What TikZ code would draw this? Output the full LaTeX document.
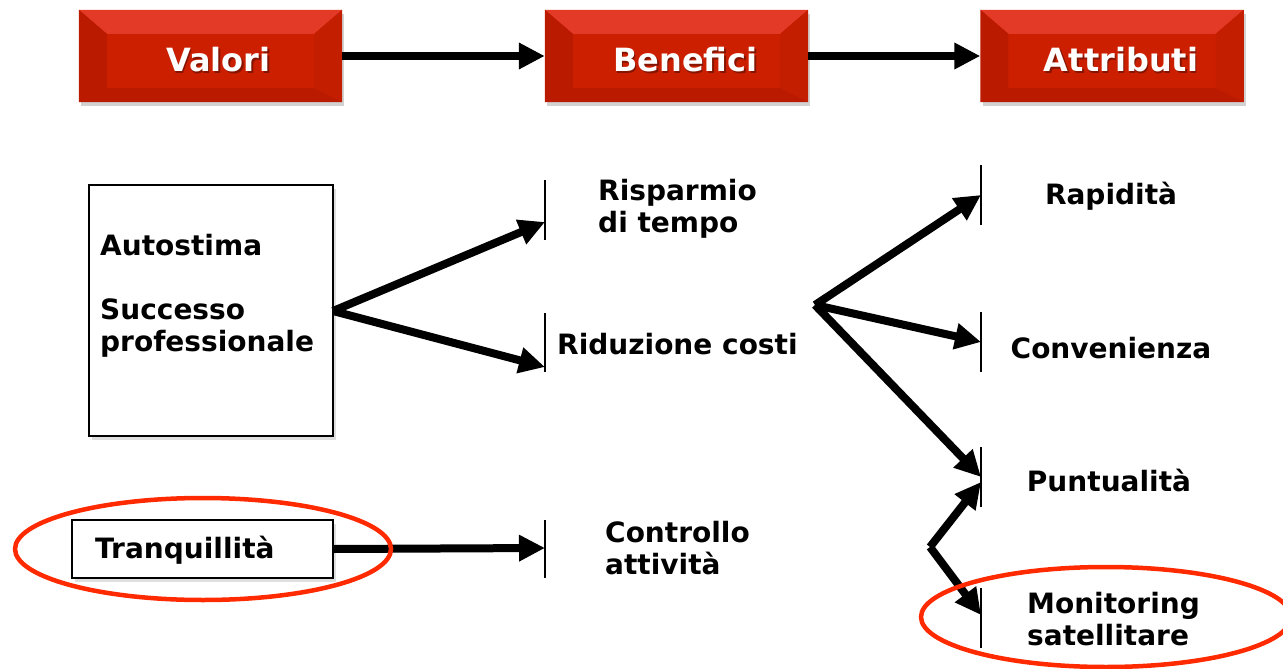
\documentclass[tikz,border=0pt]{standalone}
\usepackage{fontspec}
\setmainfont{DejaVu Sans}
\usetikzlibrary{arrows.meta,shadows}
\definecolor{hred}{HTML}{CC1F00}
\definecolor{hlight}{HTML}{E23A26}
\definecolor{hdark}{HTML}{BA1A00}
\definecolor{ovred}{HTML}{FF2A00}
\tikzset{
  hdr/.style={minimum width=263pt, minimum height=92pt, inner sep=0pt, fill=hred,
    drop shadow={opacity=0.35, shadow xshift=2pt, shadow yshift=-4pt}},
  hdrtxt/.style={text=white, font=\fontsize{32}{38}\selectfont\bfseries},
  lbl/.style={font=\fontsize{28}{32}\selectfont\bfseries, align=left, inner sep=0pt},
  valbox/.style={draw=black, line width=1.2pt, fill=white, inner sep=0pt,
    drop shadow={opacity=0.25, shadow xshift=3pt, shadow yshift=-4pt}},
  conn/.style={line width=8pt, -{Triangle[length=26pt,width=25pt]}},
  bar/.style={line width=1.5pt},
  oval/.style={draw=ovred, line width=4.5pt}
}
\newcommand{\bevel}[1]{%
  \fill[hlight] (#1.north west) -- (#1.north east) -- ([xshift=-28pt,yshift=-24pt]#1.north east) -- ([xshift=28pt,yshift=-24pt]#1.north west) -- cycle;
  \fill[hdark] (#1.north west) -- ([xshift=28pt,yshift=-24pt]#1.north west) -- ([xshift=28pt,yshift=14pt]#1.south west) -- (#1.south west) -- cycle;
  \fill[hred!96!black] (#1.north east) -- ([xshift=-28pt,yshift=-24pt]#1.north east) -- ([xshift=-28pt,yshift=14pt]#1.south east) -- (#1.south east) -- cycle;
  \fill[hdark] (#1.south west) -- ([xshift=28pt,yshift=14pt]#1.south west) -- ([xshift=-28pt,yshift=14pt]#1.south east) -- (#1.south east) -- cycle;
}
\begin{document}
\begin{tikzpicture}[x=1pt,y=-1pt]
\useasboundingbox (0,0) rectangle (1283,669);
\fill[white] (0,0) rectangle (1283,669);
% header boxes
\node[hdr] (valori) at (210.5,56) {};
\node[hdr] (benefici) at (676.5,56) {};
\node[hdr] (attributi) at (1112,56) {};
\bevel{valori}
\bevel{benefici}
\bevel{attributi}
\foreach \n/\t/\dx in {valori/Valori/8, benefici/Benefici/9, attributi/Attributi/9}{
  \node[hdrtxt, text=black, opacity=0.35] at ([xshift=\dx pt+1.5pt,yshift=-6pt]\n.center) {\t};
  \node[hdrtxt] at ([xshift=\dx pt,yshift=-4pt]\n.center) {\t};
}
\draw[conn] (valori.east) -- (benefici.west);
\draw[conn] (benefici.east) -- (attributi.west);
% value boxes
\node[valbox, minimum width=244pt, minimum height=251pt] (autostima) at (211,310.5) {};
\node[lbl, anchor=west] (t1) at (100,245) {Autostima};
\node[lbl, anchor=west] (t2) at (100,328) {Successo\\professionale};
\node[valbox, minimum width=261pt, minimum height=58pt] (tranq) at (202.5,549) {};
\node[lbl, anchor=west] (t3) at (95,550) {Tranquillità};
% bars (benefici)
\coordinate (b1) at (545,222); \draw[bar] (545,180) -- (545,240);
\coordinate (b2) at (545,367); \draw[bar] (545,313) -- (545,372);
\coordinate (b3) at (545,548); \draw[bar] (545,520) -- (545,578);
% bars (attributi)
\coordinate (a1) at (981,195); \draw[bar] (981,165) -- (981,225);
\coordinate (a2) at (981,342); \draw[bar] (981,312) -- (981,372);
\coordinate (a3) at (981,477); \coordinate (a3b) at (981,482); \draw[bar] (981,447) -- (981,507);
\coordinate (a4) at (981,615); \draw[bar] (981,588) -- (981,648);
% labels
\node[lbl, anchor=west] (r1) at (598,209) {Risparmio\\di tempo};
\node[lbl, anchor=west] (r2) at (557,344) {Riduzione costi};
\node[lbl, anchor=west] (r3) at (605,548) {Controllo\\attività};
\node[lbl] (p1) at (1111,196) {Rapidità};
\node[lbl] (p2) at (1111,348) {Convenienza};
\node[lbl] (p3) at (1109,480) {Puntualità};
\node[lbl, anchor=west] (p4) at (1027,619) {Monitoring\\satellitare};
% connectors
\coordinate (o1) at (333,311);
\draw[conn] (o1) -- (b1);
\draw[conn] (o1) -- (b2);
\draw[conn] (tranq.east) -- (b3);
\coordinate (o2) at (815,305);
\draw[conn] (o2) -- (a1);
\draw[conn] (o2) -- (a2);
\draw[conn] (o2) -- (a3);
\coordinate (o3) at (930,547);
\draw[conn] (o3) -- (a3b);
\draw[conn] (o3) -- (a4);
% ovals
\draw[oval] (203,549) ellipse [x radius=188, y radius=51];
\draw[oval] (1106,617) ellipse [x radius=185, y radius=50];
\end{tikzpicture}
\end{document}
